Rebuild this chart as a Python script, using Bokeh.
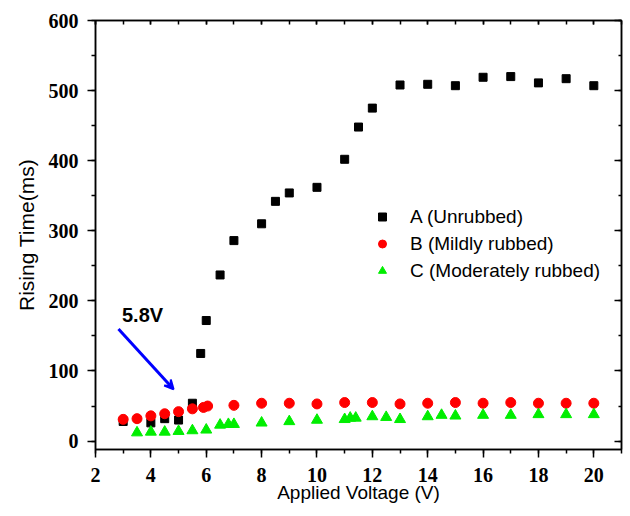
from bokeh.plotting import figure
from bokeh.models import (LinearAxis, SingleIntervalTicker, Legend, LegendItem, Label, Title,
                          Arrow, VeeHead, Range1d, CustomJSTickFormatter)
from bokeh.embed import file_html
from bokeh.resources import INLINE

# ---- data ----
A_x = [3, 4, 4.5, 5, 5.5, 5.8, 6, 6.5, 7, 8, 8.5, 9, 10, 11, 11.5, 12, 13, 14, 15, 16, 17, 18, 19, 20]
A_y = [28, 26, 32, 30, 54, 125, 172, 237, 286, 310, 342, 354, 362, 402, 448, 475, 508, 509, 507, 519, 520, 511, 517, 507]

B_x = [3, 3.5, 4, 4.5, 5, 5.5, 5.9, 6.05, 7, 8, 9, 10, 11, 12, 13, 14, 15, 16, 17, 18, 19, 20]
B_y = [31, 32, 36, 39, 42, 46, 48, 50, 51, 54, 54, 53, 55, 55, 53, 54, 55, 54, 55, 54, 54, 54]

C_x = [3.5, 4, 4.5, 5, 5.5, 6, 6.5, 6.8, 7, 8, 9, 10, 11, 11.2, 11.4, 12, 12.5, 13, 14, 14.5, 15, 16, 17, 18, 19, 20]
C_y = [12, 13, 13, 14, 15, 16, 23, 24, 24, 26, 28, 30, 31, 33, 33, 35, 34, 31, 35, 37, 36, 37, 37, 38, 38, 38]

series_names = ["A (Unrubbed)", "B (Mildly rubbed)", "C (Moderately rubbed)"]
x_title = "Applied Voltage (V)"
y_title = "Rising Time(ms)"
note_text = "5.8V"
note_pos = (3.7, 180)
arrow_start = (2.83, 160)
arrow_end = (4.82, 74)

p = figure(width=626, height=512, output_backend="svg", toolbar_location=None,
           x_range=Range1d(2, 21), y_range=Range1d(-12, 600),
           min_border_left=95, min_border_right=5, min_border_top=20, min_border_bottom=63,
           x_axis_location=None, y_axis_location=None)
p.xgrid.visible = False
p.ygrid.visible = False
p.outline_line_color = "black"
p.outline_line_width = 1.5
p.background_fill_color = "white"
p.border_fill_color = "white"

tick_font = "Liberation Serif"
blank = CustomJSTickFormatter(code="return ''")

def style_axis(ax, tin, tout, min_in, min_out, labels=True):
    ax.major_tick_in = tin
    ax.major_tick_out = tout
    ax.minor_tick_in = min_in
    ax.minor_tick_out = min_out
    ax.axis_line_color = "black"
    ax.axis_line_width = 1.5
    ax.major_tick_line_color = "black"
    ax.major_tick_line_width = 1.5
    ax.minor_tick_line_color = "black"
    ax.minor_tick_line_width = 1.5
    if labels:
        ax.major_label_text_font = tick_font
        ax.major_label_text_font_style = "bold"
        ax.major_label_text_font_size = "20px"
        ax.major_label_text_color = "black"
    else:
        ax.formatter = blank
        ax.major_label_standoff = 0

xb = LinearAxis(ticker=SingleIntervalTicker(interval=2, num_minor_ticks=2))
style_axis(xb, 0, 8, 0, 4)
xb.major_label_standoff = 10
p.add_layout(xb, "below")

yl = LinearAxis(ticker=SingleIntervalTicker(interval=100, num_minor_ticks=2))
style_axis(yl, 0, 8, 0, 4)
yl.major_label_standoff = 9
p.add_layout(yl, "left")

xt = LinearAxis(ticker=SingleIntervalTicker(interval=2, num_minor_ticks=2))
style_axis(xt, 4, 0, 4, 0, labels=False)
p.add_layout(xt, "above")

yr = LinearAxis(ticker=SingleIntervalTicker(interval=100, num_minor_ticks=2))
style_axis(yr, 7, 0, 3, 0, labels=False)
p.add_layout(yr, "right")

rA = p.scatter(A_x, A_y, marker="square", size=8, fill_color="black", line_color="black")
rB = p.scatter(B_x, B_y, marker="circle", size=10, fill_color="#ff0000", line_color="#ff0000")
rC = p.scatter(C_x, C_y, marker="triangle", size=11, fill_color="#00ee00", line_color="#00ee00")

legend = Legend(items=[LegendItem(label=series_names[0], renderers=[rA]),
                       LegendItem(label=series_names[1], renderers=[rB]),
                       LegendItem(label=series_names[2], renderers=[rC])],
                location=(277, 165), padding=0, margin=0, spacing=0,
                glyph_width=20, glyph_height=27, label_height=27, label_standoff=18,
                border_line_color=None, background_fill_alpha=0,
                label_text_font="Liberation Sans", label_text_font_size="19px",
                label_text_color="black")
p.add_layout(legend)

p.add_layout(Arrow(x_start=arrow_start[0], y_start=arrow_start[1],
                   x_end=arrow_end[0], y_end=arrow_end[1],
                   line_color="#0000ff", line_width=3,
                   end=VeeHead(size=9, line_color="#0000ff", line_width=2, fill_color="#0000ff")))

p.add_layout(Label(x=note_pos[0], y=note_pos[1], text=note_text, text_font="Liberation Sans",
                   text_font_style="bold", text_font_size="20px", text_color="black",
                   text_align="center", text_baseline="middle"))

p.add_layout(Title(text=x_title, align="center", offset=0, standoff=-10,
                   text_font="Liberation Sans", text_font_style="normal",
                   text_font_size="19px", text_color="black"), "below")
p.add_layout(Title(text=y_title, align="center", offset=0, standoff=16,
                   text_font="Liberation Sans", text_font_style="normal",
                   text_font_size="21px", text_color="black"), "left")

open("out.html", "w").write(file_html(p, INLINE))
